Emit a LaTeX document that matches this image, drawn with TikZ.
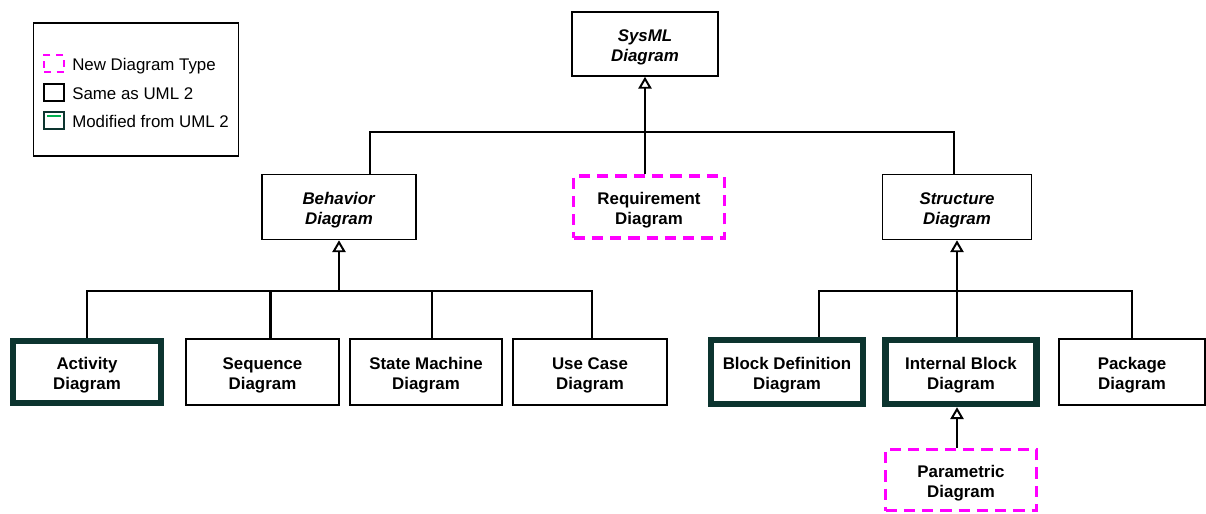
\documentclass[tikz,border=0pt]{standalone}
\usepackage{fontspec}
\setmainfont{Liberation Sans}
\usepackage{xcolor}
\usepackage{tikz}
\usetikzlibrary{arrows.meta, positioning, calc}
\newlength\pxu
\setlength\pxu{0.025cm}
\newcommand\lift{\rule{0pt}{13.5pt}}
\definecolor{mydark}{RGB}{0,0,0}
\definecolor{modteal}{RGB}{12,52,47}
\definecolor{modgreen}{RGB}{0,176,80}
\definecolor{newpink}{RGB}{255,0,255}
\tikzset{
  diagbox/.style={rectangle, draw=mydark, fill=white, line width=1.1pt,
    minimum width=150\pxu, minimum height=65\pxu, inner sep=0pt, align=center,
    font=\fontsize{12}{14.4}\selectfont\bfseries},
  modbox/.style={diagbox, draw=modteal, line width=4.6pt},
  newbox/.style={diagbox, draw=newpink, line width=2.6pt, dash pattern=on 8pt off 5pt},
  keybox/.style={rectangle, minimum width=20\pxu, minimum height=17\pxu, inner sep=0pt},
  keytext/.style={anchor=west, font=\fontsize{12}{14.4}\selectfont, inner sep=0pt},
  gen/.style={-{Triangle[open, length=8.5pt, width=9.5pt, line width=1.4pt]}, line width=2pt, color=mydark},
  line/.style={draw, line width=2pt, color=mydark}
}

\begin{document}
\begin{tikzpicture}[x=0.025cm, y=-0.025cm]
  \useasboundingbox (0,0) rectangle (1206,514);

  % Legend
  \node[draw=mydark, line width=1.1pt, minimum width=205\pxu, minimum height=133\pxu, inner sep=0pt] (legend) at (136,89.5) {};
  \node[keybox, draw=newpink, line width=1.2pt, dash pattern=on 5pt off 4pt] (keynew) at (54,63.5) {};
  \node[keybox, draw=mydark, line width=1.1pt] (keysame) at (54,92.5) {};
  \node[keybox, draw=modteal, line width=1.2pt] (keymod) at (54,120.5) {};
  \draw[modgreen, line width=1.2pt] ($(keymod.north west)+(4,5)$) -- ($(keymod.north east)+(-4,5)$);
  \node[keytext] (txtnew) at (72,66) {New Diagram Type};
  \node[keytext] (txtsame) at (72,94) {Same as UML 2};
  \node[keytext] (txtmod) at (72,121.5) {Modified from UML 2};

  % Top level
  \node[diagbox, minimum width=146\pxu, minimum height=64\pxu] (sysml) at (645,44) {\lift\textit{SysML}\\\textit{Diagram}};

  % Second level
  \node[diagbox, minimum width=154\pxu] (behav) at (339,207) {\lift\textit{Behavior}\\\textit{Diagram}};
  \node[newbox, minimum width=151\pxu, minimum height=62\pxu] (req) at (649,207) {\lift Requirement\\Diagram};
  \node[diagbox, minimum width=149\pxu] (struct) at (957,207) {\lift\textit{Structure}\\\textit{Diagram}};

  % Behavior diagrams
  \node[modbox, minimum width=148\pxu, minimum height=62\pxu] (activity) at (87,372) {\lift Activity\\Diagram};
  \node[diagbox, minimum width=153\pxu, minimum height=66\pxu] (seq) at (262.5,372) {\lift Sequence\\Diagram};
  \node[diagbox, minimum width=152\pxu, minimum height=66\pxu] (state) at (426,372) {\lift State Machine\\Diagram};
  \node[diagbox, minimum width=154\pxu, minimum height=66\pxu] (usecase) at (590,372) {\lift Use Case\\Diagram};

  % Structure diagrams
  \node[modbox, minimum width=152\pxu, minimum height=64\pxu] (bdd) at (787,372) {\lift Block Definition\\Diagram};
  \node[modbox, minimum width=151\pxu, minimum height=64\pxu] (ibd) at (961,372) {\lift Internal Block\\Diagram};
  \node[diagbox, minimum width=146\pxu, minimum height=66\pxu] (package) at (1132,372) {\lift Package\\Diagram};
  \node[newbox, minimum width=151\pxu, minimum height=61\pxu] (param) at (961,480) {\lift Parametric\\Diagram};

  % Generalization: second level
  \coordinate (topbar) at (645,132);
  \draw[line] ($(behav.north)+(31,0)$) |- (topbar) -| ($(struct.north)+(-3,0)$);
  \draw[gen] (req.north -| topbar) -- (sysml.south);

  % Generalization: behavior
  \coordinate (behavbar) at (339,291);
  \draw[line] (activity.north) |- (behavbar) -| ($(usecase.north)+(2,0)$);
  \draw[line] ($(seq.north)+(8,0)$) |- (behavbar);
  \draw[line] ($(state.north)+(6,0)$) |- (behavbar);
  \draw[gen] (behavbar) -- (behav.south);

  % Generalization: structure
  \coordinate (structbar) at (957,291);
  \draw[line] ($(bdd.north)+(32,0)$) |- (structbar) -| (package.north);
  \draw[line] ($(ibd.north)+(-4,0)$) |- (structbar);
  \draw[gen] (structbar) -- (struct.south);
  \draw[gen] ($(param.north)+(-4,0)$) -- ($(ibd.south)+(-4,0)$);
\end{tikzpicture}
\end{document}
